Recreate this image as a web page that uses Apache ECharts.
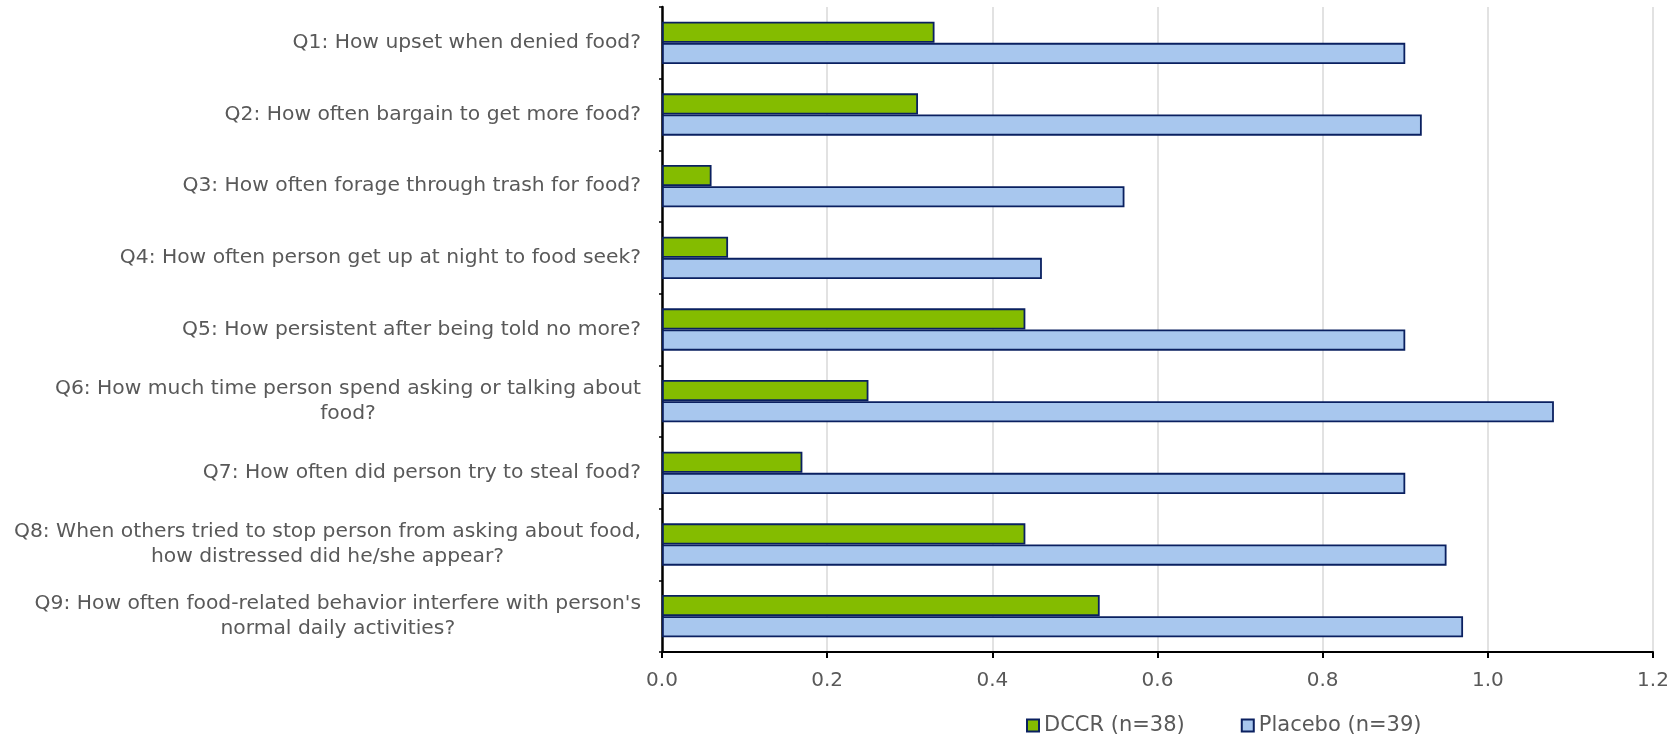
<!DOCTYPE html>
<html>
<head>
<meta charset="utf-8">
<script src="https://cdn.jsdelivr.net/npm/echarts@6/dist/echarts.min.js"></script>
<style>
  html, body { margin: 0; padding: 0; background: #ffffff; }
  #chart { width: 1675px; height: 735px; }
</style>
</head>
<body>
<div id="chart"></div>
<script>
const categories = [
  "Q1: How upset when denied food?",
  "Q2: How often bargain to get more food?",
  "Q3: How often forage through trash for food?",
  "Q4: How often person get up at night to food seek?",
  "Q5: How persistent after being told no more?",
  "Q6: How much time person spend asking or talking about\nfood?",
  "Q7: How often did person try to steal food?",
  "Q8: When others tried to stop person from asking about food,\nhow distressed did he/she appear?",
  "Q9: How often food-related behavior interfere with person's\nnormal daily activities?"
];
const dccrName = "DCCR (n=38)";
const placeboName = "Placebo (n=39)";
const dccrValues = [0.33, 0.31, 0.06, 0.08, 0.44, 0.25, 0.17, 0.44, 0.53];
const placeboValues = [0.90, 0.92, 0.56, 0.46, 0.90, 1.08, 0.90, 0.95, 0.97];
const xTicks = [0.0, 0.2, 0.4, 0.6, 0.8, 1.0, 1.2];

const FONT = "DejaVu Sans";
const TEXT = "#595959";
const NAVY = "#0a2060";

const chart = echarts.init(document.getElementById('chart'), null, { renderer: 'canvas' });
chart.setOption({
  animation: false,
  backgroundColor: '#ffffff',
  textStyle: { fontFamily: FONT },
  grid: { left: 662, right: 22, top: 7, bottom: 83, containLabel: false },
  legend: {
    left: 1021, top: 710,
    icon: 'rect', itemWidth: 12, itemHeight: 12, itemGap: 56,
    textStyle: { fontFamily: FONT, fontSize: 21, color: TEXT },
    data: [dccrName, placeboName]
  },
  xAxis: {
    type: 'value',
    min: xTicks[0], max: xTicks[xTicks.length - 1], interval: 0.2,
    axisLine: { show: true, lineStyle: { color: '#000000', width: 2 } },
    axisTick: { show: true, length: 6, lineStyle: { color: '#000000', width: 2 } },
    splitLine: { show: true, lineStyle: { color: '#d9d9d9', width: 1.5 } },
    axisLabel: {
      fontFamily: FONT, fontSize: 20, color: TEXT, margin: 19,
      formatter: v => v.toFixed(1)
    }
  },
  yAxis: {
    type: 'category',
    data: categories,
    inverse: true,
    axisLine: { show: true, lineStyle: { color: '#000000', width: 2.5 } },
    axisTick: { show: true, length: 3, lineStyle: { color: '#000000', width: 1.5 } },
    splitLine: { show: false },
    axisLabel: {
      fontFamily: FONT, fontSize: 20.3, color: TEXT, margin: 21, lineHeight: 25,
      formatter: function (v) {
        return v.split('\n').map(l => '{c|' + l + '}').join('\n');
      },
      rich: { c: { align: 'center', fontFamily: FONT, fontSize: 20.3, color: TEXT, lineHeight: 25 } }
    }
  },
  series: [
    {
      name: dccrName, type: 'bar', data: dccrValues,
      barGap: '0%', barCategoryGap: '41%',
      itemStyle: { color: '#84bc00', borderColor: NAVY, borderWidth: 1.8 }
    },
    {
      name: placeboName, type: 'bar', data: placeboValues,
      barGap: '0%', barCategoryGap: '41%',
      itemStyle: { color: '#a8c7ee', borderColor: NAVY, borderWidth: 1.8 }
    }
  ]
});
</script>
</body>
</html>
